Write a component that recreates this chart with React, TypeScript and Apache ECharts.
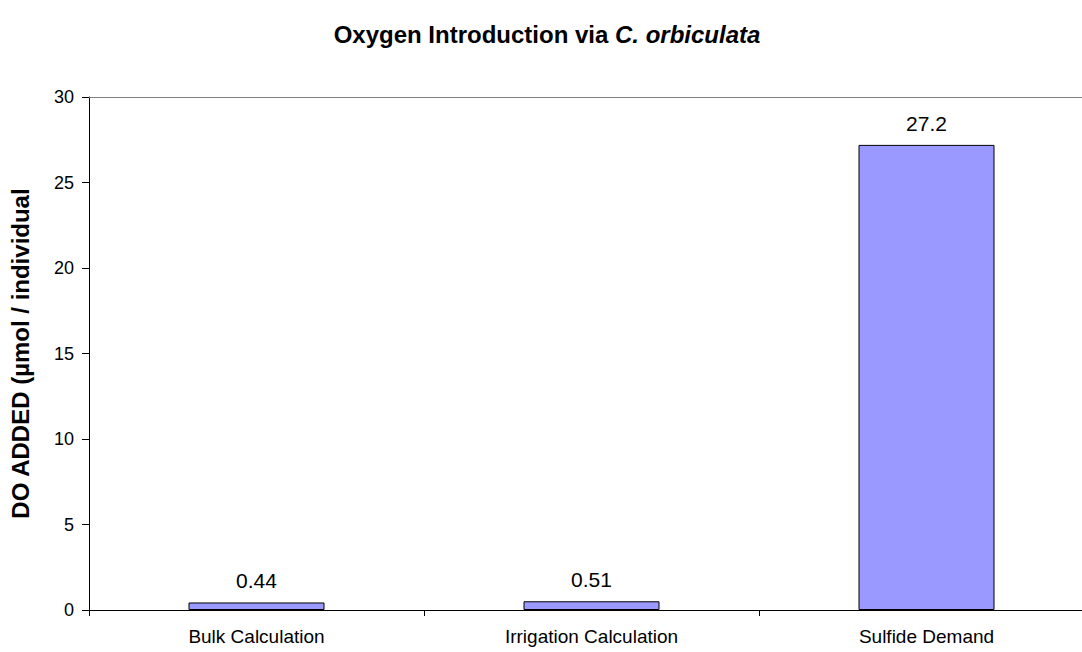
import React, { useEffect, useRef } from "react";
import * as echarts from "echarts";

const categories = ["Bulk Calculation", "Irrigation Calculation", "Sulfide Demand"];
const values = [0.44, 0.51, 27.2];
const yTicks = { min: 0, max: 30, interval: 5 };
const titleMain = "Oxygen Introduction via ";
const titleItalic = "C. orbiculata";
const yName = "DO ADDED (µmol / individual";

export default function App() {
  const ref = useRef<HTMLDivElement>(null);
  useEffect(() => {
    if (!ref.current) return;
    const chart = echarts.init(ref.current, null, { renderer: "svg" });
    const font = "Liberation Sans, Arial, sans-serif";
    chart.setOption({
      animation: false,
      backgroundColor: "#ffffff",
      title: {
        text: `{n|${titleMain}}{i|${titleItalic}}`,
        left: 542,
        textAlign: "center",
        top: 17,
        textStyle: {
          rich: {
            n: { fontFamily: font, fontSize: 24, fontWeight: "bold", color: "#000" },
            i: { fontFamily: font, fontSize: 24, fontWeight: "bold", fontStyle: "italic", color: "#000" },
          },
        },
      },
      grid: { left: 89, top: 97, width: 1005, height: 513, containLabel: false },
      xAxis: [
        {
          type: "category",
          data: categories,
          axisLine: { lineStyle: { color: "#000", width: 1 } },
          axisTick: { show: true, alignWithLabel: false, length: 6, lineStyle: { color: "#000" } },
          axisLabel: { color: "#000", fontFamily: font, fontSize: 19, margin: 17 },
          splitLine: { show: false },
        },
        {
          type: "category",
          position: "top",
          data: categories,
          axisLine: { lineStyle: { color: "#808080", width: 1 } },
          axisTick: { show: false },
          axisLabel: { show: false },
        },
      ],
      yAxis: {
        type: "value",
        min: yTicks.min,
        max: yTicks.max,
        interval: yTicks.interval,
        name: yName,
        nameLocation: "middle",
        nameGap: 57,
        nameTextStyle: { fontFamily: font, fontSize: 24, fontWeight: "bold", color: "#000" },
        axisLine: { show: true, lineStyle: { color: "#000", width: 1 } },
        axisTick: { show: true, length: 7, lineStyle: { color: "#000" } },
        axisLabel: { color: "#000", fontFamily: font, fontSize: 18, margin: 15 },
        splitLine: { show: false },
      },
      series: [
        {
          type: "bar",
          data: values,
          barWidth: 136,
          itemStyle: { color: "#9999FF", borderColor: "#000", borderWidth: 1 },
          label: {
            show: true,
            position: "top",
            distance: 11,
            color: "#000",
            fontFamily: font,
            fontSize: 21,
            formatter: (p: any) => String(p.value),
          },
        },
      ],
    });
    return () => chart.dispose();
  }, []);
  return (
    <div style={{ position: "absolute", left: 0, top: 0, width: 1082, height: 652, overflow: "hidden" }}>
      <div ref={ref} style={{ width: 1110, height: 652 }} />
    </div>
  );
}
